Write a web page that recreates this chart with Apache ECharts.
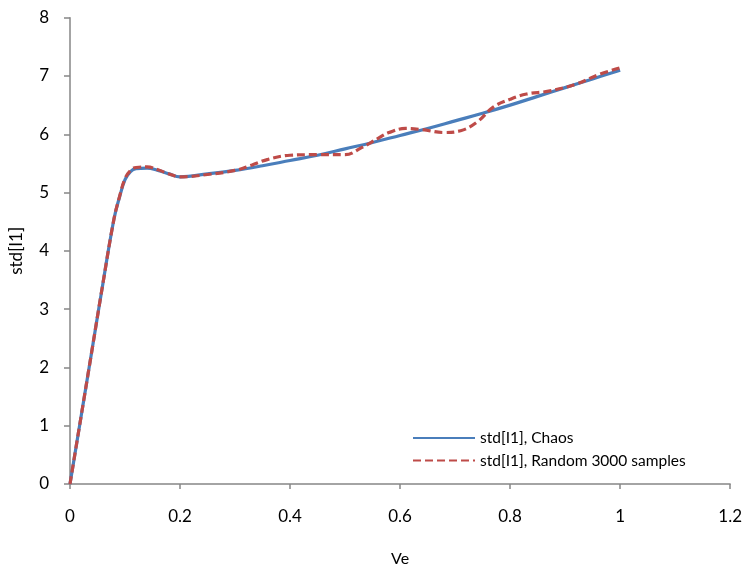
<!DOCTYPE html>
<html>
<head>
<meta charset="utf-8">
<script src="https://cdn.jsdelivr.net/npm/echarts@6/dist/echarts.min.js"></script>
<style>
  html, body { margin: 0; padding: 0; background: #fff; }
  #chart { width: 745px; height: 572px; }
</style>
</head>
<body>
<div id="chart"></div>
<script>
// Ve values and std[I1] for the Chaos expansion
const veChaos = [0, 0.02, 0.04, 0.06, 0.08, 0.09, 0.10, 0.11, 0.12, 0.14, 0.16, 0.18, 0.20,
  0.25, 0.30, 0.35, 0.40, 0.45, 0.50, 0.55, 0.60, 0.65, 0.70, 0.75, 0.80, 0.85, 0.90, 0.95, 1.00];
const stdChaos = [0, 1.15, 2.3, 3.45, 4.55, 4.92, 5.22, 5.36, 5.41, 5.42, 5.38, 5.32, 5.27,
  5.32, 5.38, 5.46, 5.55, 5.64, 5.75, 5.86, 5.98, 6.10, 6.23, 6.36, 6.50, 6.65, 6.80, 6.95, 7.10];

// Ve values and std[I1] from 3000 random samples
const veRandom = [0, 0.02, 0.04, 0.06, 0.08, 0.09, 0.10, 0.11, 0.12, 0.14, 0.16, 0.18, 0.20,
  0.25, 0.30, 0.33, 0.36, 0.40, 0.45, 0.50, 0.53, 0.56, 0.58, 0.61, 0.64, 0.68, 0.71, 0.74,
  0.77, 0.80, 0.83, 0.87, 0.92, 0.96, 1.00];
const stdRandom = [0, 1.15, 2.3, 3.45, 4.55, 4.93, 5.24, 5.38, 5.43, 5.44, 5.39, 5.32, 5.27,
  5.31, 5.38, 5.47, 5.57, 5.64, 5.65, 5.65, 5.77, 5.93, 6.03, 6.10, 6.08, 6.03, 6.06, 6.21,
  6.47, 6.60, 6.69, 6.74, 6.86, 7.02, 7.14];

const seriesNames = ['std[I1], Chaos', 'std[I1], Random 3000 samples'];
const xTicks = { min: 0, max: 1.2, step: 0.2 };
const yTicks = { min: 0, max: 8, step: 1 };

const zip = (xs, ys) => xs.map((x, i) => [x, ys[i]]);

const FONT = 'Lato';
const AXIS_COLOR = '#868686';

const chart = echarts.init(document.getElementById('chart'), null, { renderer: 'canvas' });

chart.setOption({
  animation: false,
  backgroundColor: '#ffffff',
  textStyle: { fontFamily: FONT },
  grid: { left: 70, right: 14, top: 17.7, bottom: 84.5, containLabel: false },
  legend: {
    show: true,
    orient: 'vertical',
    left: 412,
    top: 430,
    width: 320,
    height: 60,
    padding: 0,
    itemWidth: 62,
    itemHeight: 14,
    itemGap: 6.6,
    textStyle: { fontFamily: FONT, fontSize: 15.5, color: '#000' },
    lineStyle: { width: 2 },
    itemStyle: { opacity: 0 },
    data: seriesNames
  },
  xAxis: {
    type: 'value',
    min: xTicks.min,
    max: xTicks.max,
    interval: xTicks.step,
    name: 'Ve',
    nameLocation: 'middle',
    nameGap: 67,
    nameTextStyle: { fontFamily: FONT, fontSize: 16, color: '#000' },
    axisLine: { show: true, onZero: false, lineStyle: { color: AXIS_COLOR, width: 1.5 } },
    axisTick: { show: true, inside: false, length: 5, lineStyle: { color: AXIS_COLOR, width: 1.5 } },
    axisLabel: { margin: 24, fontFamily: FONT, fontSize: 17, color: '#000' },
    splitLine: { show: false }
  },
  yAxis: {
    type: 'value',
    min: yTicks.min,
    max: yTicks.max,
    interval: yTicks.step,
    name: 'std[I1]',
    nameLocation: 'middle',
    nameGap: 45,
    nameRotate: 90,
    nameTextStyle: { fontFamily: FONT, fontSize: 17, color: '#000' },
    axisLine: { show: true, onZero: false, lineStyle: { color: AXIS_COLOR, width: 1.5 } },
    axisTick: { show: true, inside: false, length: 6, lineStyle: { color: AXIS_COLOR, width: 1.5 } },
    axisLabel: { margin: 21, fontFamily: FONT, fontSize: 17, color: '#000' },
    splitLine: { show: false }
  },
  series: [
    {
      name: seriesNames[0],
      type: 'line',
      data: zip(veChaos, stdChaos),
      smooth: 0.4,
      showSymbol: false,
      symbol: 'none',
      color: '#4A7EBB',
      lineStyle: { color: '#4A7EBB', width: 3.2 },
      z: 2
    },
    {
      name: seriesNames[1],
      type: 'line',
      data: zip(veRandom, stdRandom),
      smooth: 0.4,
      showSymbol: false,
      symbol: 'none',
      color: '#BE4B48',
      lineStyle: { color: '#BE4B48', width: 3.2, type: [8, 4] },
      z: 3
    }
  ]
});
</script>
</body>
</html>
